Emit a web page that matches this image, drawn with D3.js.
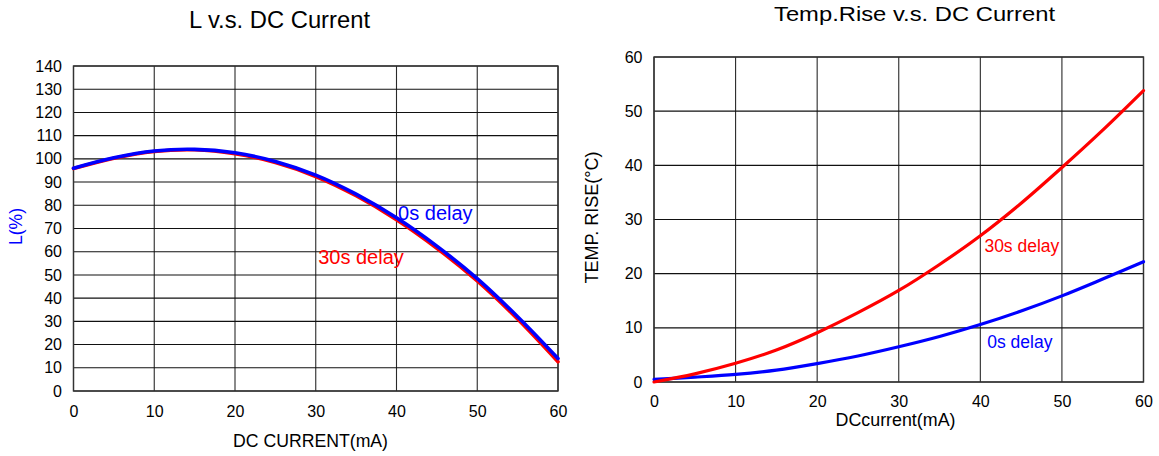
<!DOCTYPE html>
<html>
<head>
<meta charset="utf-8">
<script src="https://cdn.jsdelivr.net/npm/d3@7"></script>
<style>
  html, body { margin: 0; padding: 0; background: #fff; }
  svg { display: block; }
  text { font-family: "Liberation Sans", Arial, sans-serif; }
</style>
</head>
<body>
<svg id="chart" width="1159" height="456"></svg>
<script>
// ---------- DATA ----------
const currentMA = [0, 5, 10, 15, 20, 25, 30, 35, 40, 45, 50, 55, 60];

// Left chart: L(%) vs DC current
const L_0sDelay  = [96.0, 100.5, 103.4, 104.1, 102.6, 98.9, 93.0, 84.8, 74.6, 62.4, 48.4, 32.0, 14.0];
const L_30sDelay = [95.8, 100.3, 103.2, 103.9, 102.2, 98.4, 92.4, 84.1, 73.8, 61.5, 47.4, 31.0, 12.6];

// Right chart: Temp rise (°C) vs DC current
const T_0sDelay  = [0.5, 0.9, 1.4, 2.2, 3.4, 4.8, 6.5, 8.4, 10.6, 13.1, 15.9, 19.0, 22.2];
const T_30sDelay = [0.0, 1.5, 3.45, 5.9, 9.1, 12.8, 16.9, 21.7, 27.0, 33.0, 39.6, 46.5, 53.8];

// Tick labels
const xTickValues = [0, 10, 20, 30, 40, 50, 60];
const leftYTickValues = [0, 10, 20, 30, 40, 50, 60, 70, 80, 90, 100, 110, 120, 130, 140];
const rightYTickValues = [0, 10, 20, 30, 40, 50, 60];

// Texts
const leftTitle = "L v.s. DC Current";
const rightTitle = "Temp.Rise v.s. DC Current";
const leftXLabel = "DC CURRENT(mA)";
const rightXLabel = "DCcurrent(mA)";
const leftYLabel = "L(%)";
const rightYLabel = "TEMP. RISE(°C)";
const seriesNames = ["0s delay", "30s delay"];

// ---------- DRAW ----------
const svg = d3.select("#chart");
svg.append("rect").attr("width", 1159).attr("height", 456).attr("fill", "#fff");

const BLUE = "#0000ff", RED = "#ff0000";

function drawPanel(o) {
  const g = svg.append("g");
  const x = d3.scaleLinear().domain([0, 60]).range([o.left, o.right]);
  const y = d3.scaleLinear().domain([0, o.yMax]).range([o.bottom, o.top]);

  // grid
  g.append("g").selectAll("line").data(xTickValues).join("line")
    .attr("x1", d => x(d)).attr("x2", d => x(d))
    .attr("y1", o.top).attr("y2", o.bottom)
    .attr("stroke", "#2a2a2a").attr("stroke-width", 1.1);
  g.append("g").selectAll("line").data(o.yTicks).join("line")
    .attr("x1", o.left).attr("x2", o.right)
    .attr("y1", d => y(d)).attr("y2", d => y(d))
    .attr("stroke", "#111").attr("stroke-width", 1.1);
  // frame
  g.append("rect").attr("x", o.left).attr("y", o.top)
    .attr("width", o.right - o.left).attr("height", o.bottom - o.top)
    .attr("fill", "none").attr("stroke", "#333").attr("stroke-width", 1.4);

  // axes (labels only)
  const xAxis = d3.axisBottom(x).tickValues(xTickValues).tickSize(0).tickPadding(o.xPad);
  const ax = g.append("g").attr("transform", `translate(0,${o.bottom})`).call(xAxis);
  ax.select(".domain").remove();
  ax.selectAll("text").attr("font-size", o.tickFont).attr("fill", "#000")
    .attr("font-family", '"Liberation Sans", Arial, sans-serif');

  const yAxis = d3.axisLeft(y).tickValues(o.yTicks).tickSize(0).tickPadding(11.5);
  const ay = g.append("g").attr("transform", `translate(${o.left},0)`).call(yAxis);
  ay.select(".domain").remove();
  ay.selectAll("text").attr("font-size", o.tickFont).attr("fill", "#000")
    .attr("font-family", '"Liberation Sans", Arial, sans-serif');

  // curves
  const line = d3.line().x((d, i) => x(currentMA[i])).y(d => y(d)).curve(d3.curveCatmullRom.alpha(0.5));
  o.series.forEach(s => {
    g.append("path").datum(s.values).attr("d", line)
      .attr("fill", "none").attr("stroke", s.color).attr("stroke-width", s.width)
      .attr("stroke-linejoin", "round").attr("stroke-linecap", "round");
  });

  // series labels
  o.labels.forEach(l => {
    g.append("text").attr("x", x(l.xv)).attr("y", y(l.yv))
      .attr("font-size", l.size).attr("fill", l.color).text(l.text);
  });

  // titles
  g.append("text").attr("x", o.titleX).attr("y", o.titleY).attr("text-anchor", "middle")
    .attr("font-size", o.titleSize).attr("textLength", o.titleLen).attr("lengthAdjust", "spacingAndGlyphs")
    .attr("fill", "#000").text(o.title);
  g.append("text").attr("x", o.xLabelX).attr("y", o.xLabelY).attr("text-anchor", "middle")
    .attr("font-size", o.xLabelSize).attr("textLength", o.xLabelLen).attr("lengthAdjust", "spacingAndGlyphs")
    .attr("fill", "#000").text(o.xLabel);
  g.append("text").attr("transform", `translate(${o.yLabelX},${o.yLabelY}) rotate(-90)`)
    .attr("text-anchor", "middle").attr("font-size", o.yLabelSize)
    .attr("textLength", o.yLabelLen).attr("lengthAdjust", "spacingAndGlyphs")
    .attr("fill", o.yLabelColor).text(o.yLabel);
}

drawPanel({
  left: 73.5, right: 558, top: 66, bottom: 391, yMax: 140,
  yTicks: leftYTickValues, tickFont: 16, xPad: 15,
  series: [
    { values: L_30sDelay, color: RED, width: 3.6 },
    { values: L_0sDelay, color: BLUE, width: 3.6 }
  ],
  labels: [
    { text: seriesNames[0], xv: 40.2, yv: 73.7, size: 20, color: BLUE },
    { text: seriesNames[1], xv: 30.3, yv: 54.7, size: 20, color: RED }
  ],
  title: leftTitle, titleX: 279.5, titleY: 28, titleSize: 23, titleLen: 181,
  xLabel: leftXLabel, xLabelX: 310.5, xLabelY: 447, xLabelSize: 18, xLabelLen: 155,
  yLabel: leftYLabel, yLabelX: 22, yLabelY: 226.5, yLabelSize: 18, yLabelLen: 37, yLabelColor: BLUE
});

drawPanel({
  left: 654, right: 1143.5, top: 57, bottom: 382, yMax: 60,
  yTicks: rightYTickValues, tickFont: 16, xPad: 14,
  series: [
    { values: T_0sDelay, color: BLUE, width: 3.2 },
    { values: T_30sDelay, color: RED, width: 3.2 }
  ],
  labels: [
    { text: seriesNames[1], xv: 40.5, yv: 24.05, size: 17.5, color: RED },
    { text: seriesNames[0], xv: 40.85, yv: 6.2, size: 17.5, color: BLUE }
  ],
  title: rightTitle, titleX: 914.5, titleY: 20.5, titleSize: 21, titleLen: 281,
  xLabel: rightXLabel, xLabelX: 895.5, xLabelY: 426, xLabelSize: 18, xLabelLen: 120,
  yLabel: rightYLabel, yLabelX: 598, yLabelY: 217.5, yLabelSize: 18, yLabelLen: 132, yLabelColor: "#000"
});
</script>
</body>
</html>
